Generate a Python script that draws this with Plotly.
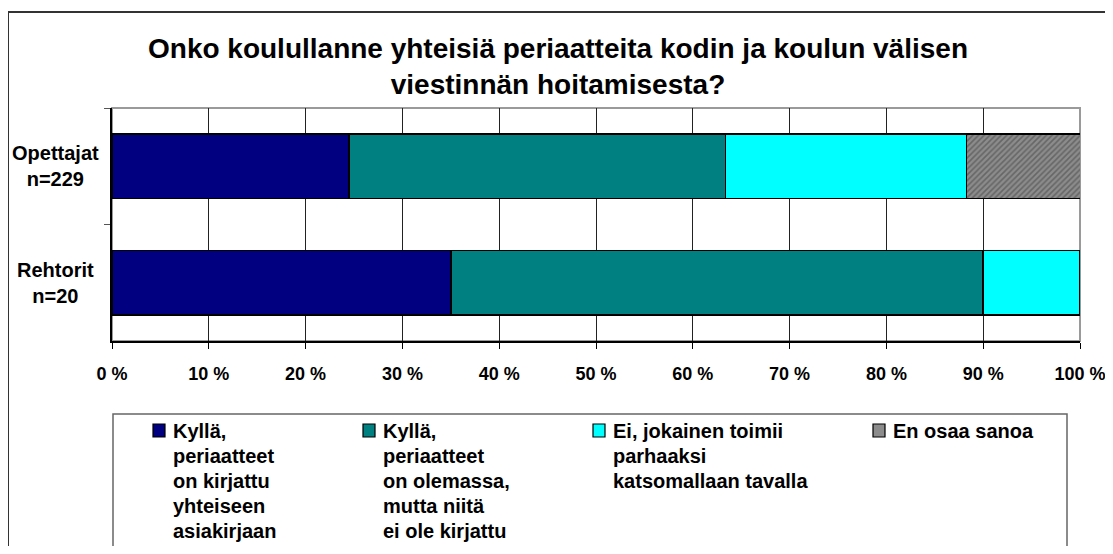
import plotly.graph_objects as go

# --- data -------------------------------------------------------------
groups = ["Opettajat", "Rehtorit"]
group_labels = ["Opettajat<br>n=229", "Rehtorit<br>n=20"]

answers = [
    "Kyllä, periaatteet on kirjattu yhteiseen asiakirjaan",
    "Kyllä, periaatteet on olemassa, mutta niitä ei ole kirjattu",
    "Ei, jokainen toimii parhaaksi katsomallaan tavalla",
    "En osaa sanoa",
]
legend_lines = [
    ["Kyllä,", "periaatteet", "on kirjattu", "yhteiseen", "asiakirjaan"],
    ["Kyllä,", "periaatteet", "on olemassa,", "mutta niitä", "ei ole kirjattu"],
    ["Ei, jokainen toimii", "parhaaksi", "katsomallaan tavalla"],
    ["En osaa sanoa"],
]

kylla_kirjattu = [24.5, 35.0]
kylla_olemassa = [38.9, 55.0]
ei_yhteisia = [24.9, 10.0]
en_osaa = [11.8, None]
series = [kylla_kirjattu, kylla_olemassa, ei_yhteisia, en_osaa]

tick_vals = [0, 10, 20, 30, 40, 50, 60, 70, 80, 90, 100]
tick_text = ["0 %", "10 %", "20 %", "30 %", "40 %", "50 %",
             "60 %", "70 %", "80 %", "90 %", "100 %"]

title = "Onko koulullanne yhteisiä periaatteita kodin ja koulun välisen<br>viestinnän hoitamisesta?"

# --- style ------------------------------------------------------------
colors = ["#000080", "#008080", "#00FFFF", "#8c8c8c"]
FONT = "Liberation Sans Narrow, Arial Narrow, Liberation Sans, Arial, sans-serif"

# the page body keeps an 8px margin; size the figure so it fits the window
# and give every position below in screen pixels
OFF = 8
W_PX, H_PX = 1113 - 2 * OFF, 554 - 2 * OFF
L, R, T, B = 112, 1080, 108, 341


def px(x):
    return (x - L) / (R - L)


def py(y):
    return (B - y) / (B - T)


fig = go.Figure()
for i, (name, vals) in enumerate(zip(answers, series)):
    marker = dict(color=colors[i], line=dict(color="black", width=1.5))
    if i == 3:
        marker["pattern"] = dict(shape="/", fgcolor="#404040", bgcolor="#8c8c8c",
                                 size=4, solidity=0.4)
    fig.add_trace(go.Bar(
        y=groups, x=vals, orientation="h", name=name,
        marker=marker, showlegend=False,
    ))

# category labels, centred on two lines like the original
annotations = []
for g, lab in zip(groups, group_labels):
    annotations.append(dict(
        x=px(55), xref="paper", y=g, yref="y", text=f"<b>{lab}</b>",
        showarrow=False, xanchor="center", yanchor="middle", align="center",
        font=dict(family=FONT, size=20, color="black"),
    ))

shapes = [
    # outer chart frame
    dict(type="rect", xref="paper", yref="paper",
         x0=px(8), x1=px(1120), y0=py(570), y1=py(12),
         line=dict(color="#333333", width=2), layer="below"),
    # plot area border (top/right grey)
    dict(type="rect", xref="paper", yref="paper",
         x0=0, x1=1, y0=0, y1=1,
         line=dict(color="#9a9a9a", width=2), layer="between"),
    # legend frame
    dict(type="rect", xref="paper", yref="paper",
         x0=px(113), x1=px(1067), y0=py(570), y1=py(414),
         line=dict(color="#666666", width=1.5)),
]

# manual legend (column positions as in the original)
col_x = [153, 363, 593, 873]
line_y = [430.5, 455.5, 480.5, 505.5, 530.5]
for i, lines in enumerate(legend_lines):
    shapes.append(dict(
        type="rect", xref="paper", yref="paper",
        x0=px(col_x[i]), x1=px(col_x[i] + 12),
        y0=py(437), y1=py(424),
        fillcolor=colors[i], line=dict(color="black", width=1.2),
    ))
    for j, txt in enumerate(lines):
        annotations.append(dict(
            x=px(col_x[i] + 18), xref="paper", y=py(line_y[j]), yref="paper",
            text=f"<b>{txt}</b>", showarrow=False,
            xanchor="left", yanchor="middle", align="left",
            font=dict(family=FONT, size=20, color="black"),
        ))

fig.update_layout(
    width=W_PX, height=H_PX,
    margin=dict(l=L - OFF, r=OFF + W_PX - R, t=T - OFF, b=OFF + H_PX - B),
    paper_bgcolor="white", plot_bgcolor="white",
    barmode="stack", bargap=0.45,
    title=dict(text=f"<b>{title}</b>", x=(558 - OFF) / W_PX, xanchor="center",
               y=1 - (57.5 - OFF) / H_PX, yanchor="middle", yref="container",
               font=dict(family=FONT, size=28, color="black")),
    xaxis=dict(range=[0, 100], tickvals=tick_vals,
               ticktext=[f"<b>{t}</b>" for t in tick_text],
               showgrid=True, gridcolor="#222222", gridwidth=1,
               showline=True, linecolor="black", linewidth=1.5,
               ticks="outside", ticklen=6, tickcolor="black",
               ticklabelstandoff=10, ticklabeloverflow="allow",
               automargin=False,
               tickfont=dict(family=FONT, size=18, color="black"),
               zeroline=False, fixedrange=True),
    yaxis=dict(categoryorder="array", categoryarray=groups, autorange="reversed",
               showticklabels=False, showgrid=False, automargin=False,
               showline=True, linecolor="black", linewidth=1.5,
               ticks="outside", tickson="boundaries", ticklen=6,
               tickcolor="#555555", zeroline=False, fixedrange=True),
    shapes=shapes,
    annotations=annotations,
    showlegend=False,
)

fig.write_html("out.html")
